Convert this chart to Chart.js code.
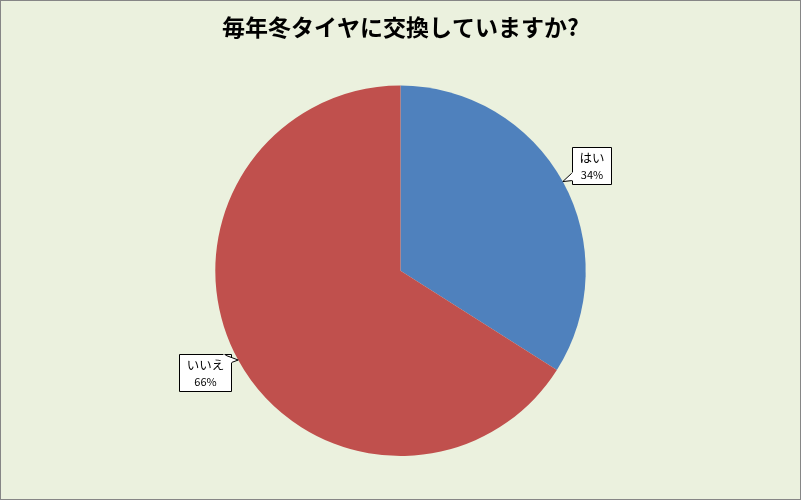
<!DOCTYPE html>
<html>
<head>
<meta charset="utf-8">
<script src="https://cdn.jsdelivr.net/npm/chart.js@4.4.1/dist/chart.umd.min.js"></script>
<style>
  html, body { margin: 0; padding: 0; background: #EBF1DE; }
  #wrap { width: 801px; height: 500px; }
</style>
</head>
<body>
<div id="wrap"><canvas id="pieChart" width="801" height="500"></canvas></div>
<script>
// chart data
const titleText = '毎年冬タイヤに交換していますか?';
const categories = ['はい', 'いいえ'];
const shares = [34, 66];
const sliceColors = ['#4F81BD', '#C0504D'];

// background + frame
const backdrop = {
    id: 'backdrop',
    beforeDraw(chart) {
        const c = chart.ctx;
        c.save();
        c.fillStyle = '#EBF1DE';
        c.fillRect(0, 0, chart.width, chart.height);
        c.strokeStyle = '#868686';
        c.lineWidth = 1;
        c.strokeRect(0.5, 0.5, chart.width - 1, chart.height - 1);
        c.restore();
    }
};

// excel-like callout labels
const callouts = {
    id: 'callouts',
    afterDatasetsDraw(chart) {
        const c = chart.ctx;
        const meta = chart.getDatasetMeta(0);
        const total = shares.reduce((a, b) => a + b, 0);
        meta.data.forEach((arc, i) => {
            const mid = (arc.startAngle + arc.endAngle) / 2;
            const tx = arc.x + Math.cos(mid) * arc.outerRadius;
            const ty = arc.y + Math.sin(mid) * arc.outerRadius;
            const name = categories[i];
            const pct = Math.round(shares[i] / total * 100) + '%';
            c.save();
            c.font = '12.5px "Noto Sans CJK JP"';
            const w1 = c.measureText(name).width;
            c.font = '11px "Noto Sans CJK JP"';
            const w2 = c.measureText(pct).width;
            const bw = Math.round(Math.max(w1, w2) + 14);
            const bh = 37;
            let bx, by, p1, p2;
            if (tx > arc.x) {
                // box to the right, pointer from left edge
                bx = Math.round(tx + 9) + 0.5;
                by = Math.round(ty - bh + 2) + 0.5;
                p1 = [bx, by + bh - 12];
                p2 = [bx, by + bh - 4];
            } else {
                // box to the left, pointer from top-right corner
                bx = Math.round(tx - 7 - bw) + 0.5;
                by = Math.round(ty - 6) + 0.5;
                p1 = [bx + bw - 8, by];
                p2 = [bx + bw, by + 8];
            }
            c.beginPath();
            c.rect(bx, by, bw, bh);
            c.fillStyle = '#FFFFFF';
            c.fill();
            c.strokeStyle = '#000000';
            c.lineWidth = 1;
            c.stroke();
            c.beginPath();
            c.moveTo(p1[0], p1[1]);
            c.lineTo(tx, ty);
            c.lineTo(p2[0], p2[1]);
            c.fill();
            c.stroke();
            // cover the edge segment under the pointer
            c.beginPath();
            c.moveTo(p1[0], p1[1]);
            c.lineTo(p2[0], p2[1]);
            c.strokeStyle = '#FFFFFF';
            c.lineWidth = 1.5;
            c.stroke();
            c.fillStyle = '#000000';
            c.textAlign = 'center';
            c.textBaseline = 'middle';
            c.font = '12.5px "Noto Sans CJK JP"';
            c.fillText(name, bx + bw / 2, by + 11);
            c.font = '11px "Noto Sans CJK JP"';
            c.fillText(pct, bx + bw / 2, by + 27);
            c.restore();
        });
    }
};

document.addEventListener('DOMContentLoaded', function () {
    const ctx = document.getElementById('pieChart').getContext('2d');
    new Chart(ctx, {
        type: 'pie',
        data: {
            labels: categories,
            datasets: [{
                data: shares,
                backgroundColor: sliceColors,
                borderWidth: 0,
                hoverOffset: 0
            }]
        },
        options: {
            responsive: false,
            devicePixelRatio: 1,
            animation: false,
            layout: {
                padding: { top: 0, bottom: 44, left: 0, right: 0 }
            },
            plugins: {
                legend: { display: false },
                tooltip: { enabled: false },
                title: {
                    display: true,
                    text: titleText,
                    color: '#000000',
                    font: { family: '"Noto Sans CJK JP"', size: 23, weight: 'bold', lineHeight: 1.2 },
                    padding: { top: 13, bottom: 45 }
                }
            }
        },
        plugins: [backdrop, callouts]
    });
});
</script>
</body>
</html>
